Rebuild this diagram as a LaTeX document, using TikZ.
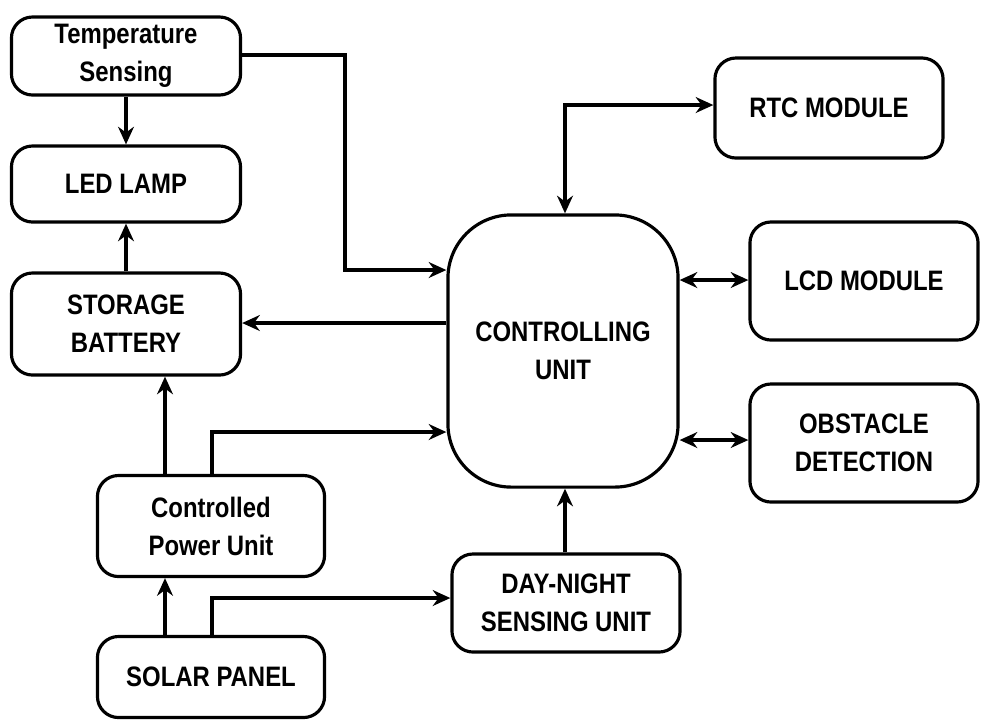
\documentclass[tikz,border=0pt]{standalone}
\usepackage{fontspec}
\setmainfont{Liberation Sans}[FakeStretch=0.85]
\usetikzlibrary{arrows.meta}
\begin{document}
\begin{tikzpicture}[x=0.01cm,y=-0.01cm,
  box/.style={draw,line width=0.9pt,rounded corners=6pt,font=\fontsize{8}{10.8}\selectfont\bfseries,align=center,inner sep=0pt},
  ar/.style={line width=0.9pt,-{Stealth[length=5pt,width=4.5pt]}},
  bar/.style={line width=1.3pt,{Stealth[length=5pt,width=4.5pt]}-{Stealth[length=5pt,width=4.5pt]}}]
\useasboundingbox (0,0) rectangle (1000,723);
\node[box,minimum width=2.29cm,minimum height=0.78cm] (ts) at (126,56) {Temperature\\Sensing};
\node[box,minimum width=2.29cm,minimum height=0.76cm] (led) at (126,184) {LED LAMP};
\node[box,minimum width=2.29cm,minimum height=1.02cm] (bat) at (126,324) {STORAGE\\BATTERY};
\node[box,minimum width=2.27cm,minimum height=1.01cm] (cpu) at (211,526) {Controlled\\Power Unit};
\node[box,minimum width=2.27cm,minimum height=0.81cm] (sol) at (211,677) {SOLAR PANEL};
\node[box,rounded corners=18pt,minimum width=2.30cm,minimum height=2.72cm] (cu) at (563,351) {CONTROLLING\\UNIT};
\node[box,minimum width=2.28cm,minimum height=1.00cm] (rtc) at (829,108) {RTC MODULE};
\node[box,minimum width=2.28cm,minimum height=1.18cm] (lcd) at (864,281) {LCD MODULE};
\node[box,minimum width=2.28cm,minimum height=1.18cm] (obs) at (864,443) {OBSTACLE\\DETECTION};
\node[box,minimum width=2.28cm,minimum height=0.98cm] (dn) at (566,603) {DAY-NIGHT\\SENSING UNIT};
\coordinate (c1) at (345,55);
\draw[ar] (ts.east|-c1) -| (345,270) -- (cu.west|-0,270);
\draw[ar] (ts.south) -- (led.north);
\draw[ar] (bat.north) -- (led.south);
\draw[ar] (cu.west|-0,323) -- (bat.east|-0,323);
\draw[ar] (cpu.north-|165,0) -- (bat.south-|165,0);
\draw[ar] (cpu.north-|212,0) -- (212,432) -- (cu.west|-0,432);
\draw[ar] (sol.north-|165,0) -- (cpu.south-|165,0);
\draw[ar] (sol.north-|212,0) -- (212,598) -- (dn.west|-0,598);
\draw[ar] (dn.north-|565,0) -- (cu.south-|565,0);
\draw[bar] (cu.north-|565,0) -- (565,105) -- (rtc.west|-0,105);
\draw[bar] (cu.east|-0,280) -- (lcd.west|-0,280);
\draw[bar] (cu.east|-0,440) -- (obs.west|-0,440);
\end{tikzpicture}
\end{document}
